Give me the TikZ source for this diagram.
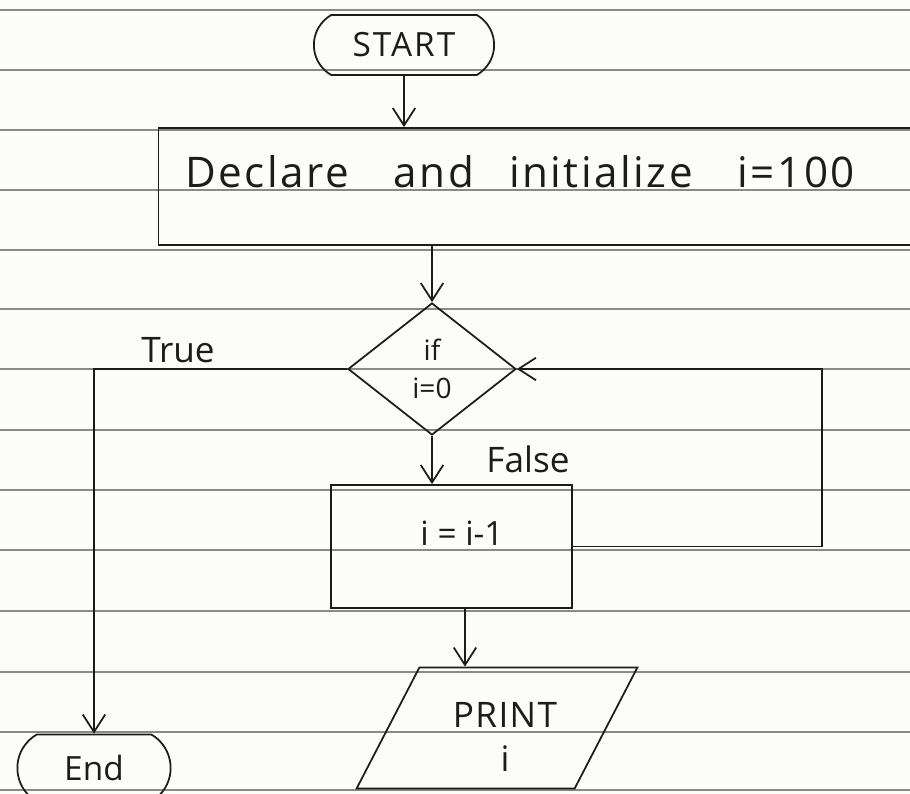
\documentclass[tikz,border=0pt]{standalone}
\usepackage{fontspec}
\setmainfont{Open Sans}
\usetikzlibrary{positioning, arrows.meta, shapes.geometric, shapes.misc}
\definecolor{Ink}{HTML}{1C1C1C}
\definecolor{Rule}{HTML}{8A8A88}
\definecolor{Paper}{HTML}{FCFCFB}
\tikzset{
    termnode/.style={rounded rectangle, rounded rectangle arc length=120, draw=Ink, line width=1pt, text=Ink, font=\fontsize{19}{22}\selectfont},
    procnode/.style={rectangle, draw=Ink, line width=1pt},
    condnode/.style={diamond, draw=Ink, line width=1pt, inner sep=0pt, text=Ink, align=center, font=\fontsize{16}{22}\selectfont},
    ionode/.style={trapezium, trapezium left angle=68, trapezium right angle=112, trapezium stretches=true, draw=Ink, line width=1pt},
    hand/.style={text=Ink, align=center, font=\fontsize{19}{23}\selectfont},
    arrow/.style={-{Straight Barb[length=3.5mm, width=4.5mm]}, line width=1pt, color=Ink},
    ruled/.style={Rule, line width=0.9pt},
}
\begin{document}
\begin{tikzpicture}[x=0.02cm, y=-0.02cm]
    % Paper
    \clip (0,0) rectangle (910,794);
    \fill[Paper] (0,0) rectangle (910,794);
    \foreach \y in {10,70,130,190,250,309,369,430,490,550,611,672,732,790}
        \draw[ruled] (0,\y) -- (910,\y);

    % Start
    \node[termnode, minimum width=3.84cm, minimum height=1.2cm] (start) at (404,45) {\addfontfeatures{LetterSpace=6}START};

    % Declare
    \node[procnode, minimum width=16.3cm, minimum height=2.34cm] (decl) at (566,186.5) {};
    \node[hand, font=\fontsize{24}{28}\selectfont] (declText) at (520,172)
        {\addfontfeatures{LetterSpace=6}Declare\hspace{0.9cm}and\hspace{0.7cm}initialize\hspace{0.9cm}i=100};

    % Condition
    \node[condnode, minimum width=3.36cm, minimum height=2.64cm] (cond) at (432,369) {if\\i=0};

    % Decrement
    \node[procnode, minimum width=4.82cm, minimum height=2.46cm] (dec) at (451.5,546.5) {};
    \node[hand] (decText) at (462,533) {i = i-1};

    % Print
    \node[ionode, minimum width=5.62cm, minimum height=2.42cm] (print) at (497,728) {};
    \node[hand, font=\fontsize{20}{25}\selectfont] (printText) at (505,737) {\addfontfeatures{LetterSpace=4}PRINT\\i};

    % End
    \node[termnode, minimum width=3.3cm, minimum height=1.34cm] (stop) at (94,768) {End};

    % Labels
    \node[hand, font=\fontsize{20}{24}\selectfont] (trueLbl) at (178,350) {True};
    \node[hand, font=\fontsize{20}{24}\selectfont] (falseLbl) at (528,459) {False};

    % Arrows
    \draw[arrow] (start.south) -- (start.south |- decl.north);
    \draw[arrow] (decl.south -| cond.north) -- (cond.north);
    \draw[arrow] (cond.south) -- (cond.south |- dec.north);
    \draw[arrow] (dec.east) -- ++(249,0) |- (cond.east);
    \draw[arrow] (cond.west) -| (stop.north);
    \draw[arrow] (dec.south -| 465,0) -- (print.north -| 465,0);
\end{tikzpicture}
\end{document}
